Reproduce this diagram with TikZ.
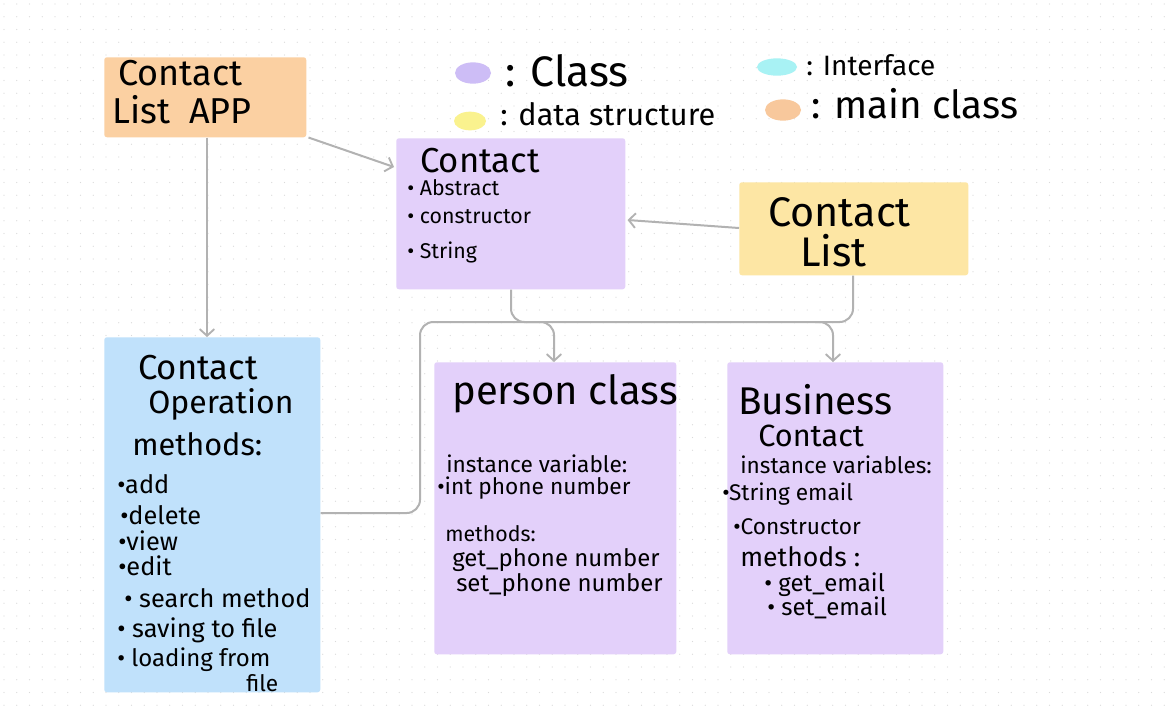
\documentclass[tikz,border=0pt]{standalone}
\usepackage{fontspec}
\setmainfont{Fira Sans}
\usetikzlibrary{arrows.meta,shapes.geometric,calc}
\definecolor{appor}{HTML}{FBD0A2}
\definecolor{clspur}{HTML}{E3D0FA}
\definecolor{dsyel}{HTML}{FDE6A4}
\definecolor{ifblue}{HTML}{C0E1FB}
\definecolor{lgpur}{HTML}{CDBDF6}
\definecolor{lgcyan}{HTML}{A8F2F4}
\definecolor{lgyel}{HTML}{FAF28E}
\definecolor{lgor}{HTML}{F8C89C}
\definecolor{conn}{HTML}{B2B2B2}
\definecolor{dotc}{HTML}{DADADA}
\tikzset{
  card/.style={draw=none, rounded corners=2pt, inner sep=0pt, anchor=north west},
  txt/.style={anchor=base west, inner sep=0pt, text=black},
  blob/.style={ellipse, draw=none, inner sep=0pt},
  link/.style={draw=conn, line width=1.5pt, rounded corners=10pt},
  tip/.style={-{Straight Barb[length=5pt,width=11pt,line width=1.4pt]}}
}
\newcommand{\fsz}[1]{\fontsize{#1}{#1}\selectfont}
\begin{document}
\begin{tikzpicture}[x=0.75pt,y=-0.75pt]
\useasboundingbox (0,0) rectangle (1170,708);
\fill[white] (0,0) rectangle (1170,708);
% dotted grid
\foreach \i in {0,...,91}{
  \foreach \j in {0,...,55}{
    \fill[dotc] (4+\i*12.75, 4+\j*12.75) circle (0.6);
  }
}
% cards
\node[card, fill=appor, minimum width=202*0.75pt, minimum height=80*0.75pt] (app) at (104,57) {};
\node[card, fill=clspur, minimum width=229*0.75pt, minimum height=151*0.75pt] (contact) at (396,138) {};
\node[card, fill=dsyel, minimum width=229*0.75pt, minimum height=93*0.75pt] (clist) at (739,182) {};
\node[card, fill=ifblue, minimum width=216*0.75pt, minimum height=355*0.75pt] (ops) at (104,337) {};
\node[card, fill=clspur, minimum width=242*0.75pt, minimum height=292*0.75pt] (person) at (434,362) {};
\node[card, fill=clspur, minimum width=216*0.75pt, minimum height=292*0.75pt] (biz) at (727,362) {};
% legend
\node[blob, fill=lgpur, minimum width=27pt, minimum height=16pt] (lg1) at (473,73) {};
\node[txt, font=\fsz{32}] (lg1t) at (505,86) {: Class};
\node[blob, fill=lgcyan, minimum width=30pt, minimum height=13pt] (lg2) at (777,67) {};
\node[txt, font=\fsz{21}] (lg2t) at (806,75) {: Interface};
\node[blob, fill=lgyel, minimum width=24pt, minimum height=14pt] (lg3) at (470,121) {};
\node[txt, font=\fsz{23}] (lg3t) at (500,125) {: data structure};
\node[blob, fill=lgor, minimum width=27pt, minimum height=16pt] (lg4) at (783,110) {};
\node[txt, font=\fsz{29}] (lg4t) at (811,118) {: main class};
% app text
\node[txt, font=\fsz{27}] (appt1) at (118,85) {Contact};
\node[txt, font=\fsz{27}] (appt2) at (112,123) {List\ \ APP};
% contact text
\node[txt, font=\fsz{26}] (ct0) at (420,172) {Contact};
\node[txt, font=\fsz{16}] (ct1) at (407,195) {• Abstract};
\node[txt, font=\fsz{16}] (ct2) at (407,223) {• constructor};
\node[txt, font=\fsz{16}] (ct3) at (407,258) {• String};
% contact list text
\node[txt, font=\fsz{31}] (cl1) at (768,226) {Contact};
\node[txt, font=\fsz{31}] (cl2) at (800,266) {List};
% operations text
\node[txt, font=\fsz{26}] (op0) at (138,379) {Contact};
\node[txt, font=\fsz{24}] (op1) at (148,413) {Operation};
\node[txt, font=\fsz{23}] (op2) at (132,455) {methods:};
\node[txt, font=\fsz{19}] (op3) at (117,493) {•add};
\node[txt, font=\fsz{19}] (op4) at (120,524) {•delete};
\node[txt, font=\fsz{19}] (op5) at (118,550) {•view};
\node[txt, font=\fsz{19}] (op6) at (118,575) {•edit};
\node[txt, font=\fsz{19}] (op7) at (124,607) {• search method};
\node[txt, font=\fsz{19}] (op8) at (117,637) {• saving to file};
\node[txt, font=\fsz{18}] (op9) at (117,666) {• loading from};
\node[txt, font=\fsz{17}] (op10) at (246,691) {file};
% person text
\node[txt, font=\fsz{30}] (pc0) at (452,404) {person class};
\node[txt, font=\fsz{17}] (pc1) at (446,472) {instance variable:};
\node[txt, font=\fsz{17}] (pc2) at (437,494) {•int phone number};
\node[txt, font=\fsz{16}] (pc3) at (445,541) {methods:};
\node[txt, font=\fsz{18}] (pc4) at (452,566) {get\_phone number};
\node[txt, font=\fsz{18}] (pc5) at (456,591) {set\_phone number};
% business text
\node[txt, font=\fsz{29}] (bc0) at (738,414) {Business};
\node[txt, font=\fsz{23}] (bc1) at (758,446) {Contact};
\node[txt, font=\fsz{17}] (bc2) at (740,473) {instance variables:};
\node[txt, font=\fsz{17}] (bc3) at (722,500) {•String email};
\node[txt, font=\fsz{17}] (bc4) at (733,534) {•Constructor};
\node[txt, font=\fsz{20}] (bc5) at (740,566) {methods :};
\node[txt, font=\fsz{18}] (bc6) at (764,591) {• get\_email};
\node[txt, font=\fsz{18}] (bc7) at (767,615) {• set\_email};
% connectors
\draw[link, tip] ($(app.south east)+(2,0)$) -- ($(contact.north west)+(-2,29)$);
\draw[link, tip] (app.south -| 207,0) -- (ops.north -| 207,0);
\draw[link, tip] (clist.west |- 0,228) -- ($(contact.east |- 0,220)+(2,0)$);
\draw[link, tip] (contact.south -| 511,0) -- (511,322) -- (554,322) -- (person.north -| 554,0);
\draw[link, tip] (ops.east |- 0,513) -- (420,513) -- (420,322) -- (833,322) -- (biz.north -| 833,0);
\draw[link] (clist.south -| 853,0) -- (853,322) -- (815,322);
\end{tikzpicture}
\end{document}
